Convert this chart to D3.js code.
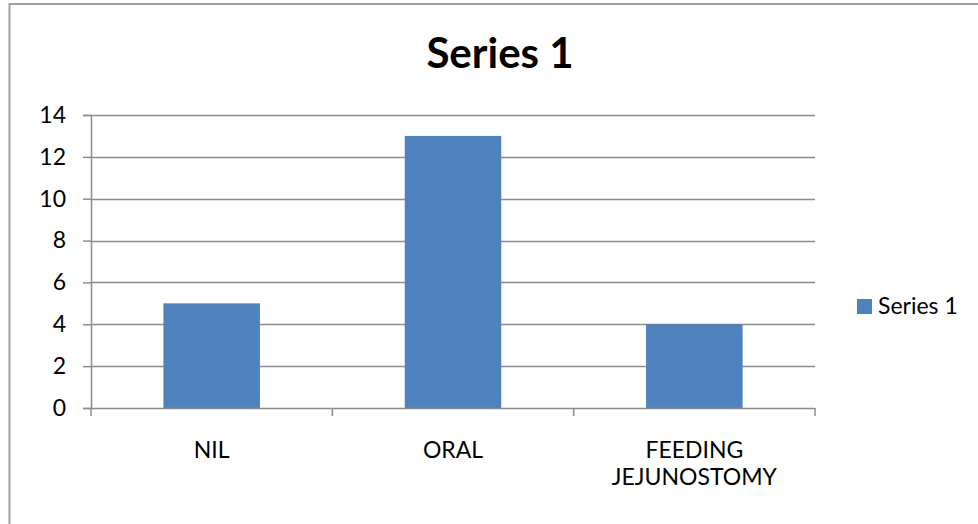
<!DOCTYPE html>
<html>
<head>
<meta charset="utf-8">
<script src="https://cdn.jsdelivr.net/npm/d3@7"></script>
<style>
  html, body { margin: 0; padding: 0; background: #fff; }
  svg { display: block; }
  text { font-family: Lato, "Open Sans", sans-serif; fill: #000; }
</style>
</head>
<body>
<svg id="chart" width="978" height="524"></svg>
<script>
const categories = ["NIL", "ORAL", "FEEDING JEJUNOSTOMY"];
const categoryLines = [["NIL"], ["ORAL"], ["FEEDING", "JEJUNOSTOMY"]];
const seriesName = "Series 1";
const values = [5, 13, 4];
const yTicks = [0, 2, 4, 6, 8, 10, 12, 14];
const title = "Series 1";

const svg = d3.select("#chart");
const W = 978, H = 524;
const plot = { left: 91, right: 815, top: 115, bottom: 408 };
const barColor = "#4F81BD";
const gridColor = "#8c8c8c";

// outer border
svg.append("rect")
  .attr("x", 9.5).attr("y", 4)
  .attr("width", 1000).attr("height", 600)
  .attr("fill", "none").attr("stroke", "#a0a0a0").attr("stroke-width", 2);

const x = d3.scaleBand().domain(categories).range([plot.left, plot.right]).paddingInner(0).paddingOuter(0);
const y = d3.scaleLinear().domain([0, 14]).range([plot.bottom, plot.top]);

// gridlines
svg.append("g").selectAll("line").data(yTicks.filter(d => d !== 0)).join("line")
  .attr("x1", plot.left).attr("x2", plot.right)
  .attr("y1", d => Math.round(y(d)) + 0.5).attr("y2", d => Math.round(y(d)) + 0.5)
  .attr("stroke", gridColor).attr("stroke-width", 1.5);

// bars
const barW = x.bandwidth() / 2.5;
svg.append("g").selectAll("rect").data(values).join("rect")
  .attr("x", (d, i) => x(categories[i]) + (x.bandwidth() - barW) / 2)
  .attr("y", d => y(d))
  .attr("width", barW)
  .attr("height", d => y(0) - y(d))
  .attr("fill", barColor);

// y axis
const yAxis = d3.axisLeft(y).tickValues(yTicks).tickSize(8).tickPadding(17).tickFormat(d3.format("d"));
const gy = svg.append("g").attr("transform", `translate(${plot.left},0)`).call(yAxis);
gy.select(".domain").attr("stroke", gridColor).attr("stroke-width", 1.5);
gy.selectAll(".tick line").attr("stroke", gridColor).attr("stroke-width", 1.5);
gy.selectAll(".tick text").style("font-size", "23px").style("font-family", "Lato, sans-serif").attr("fill", "#000");

// x axis
const xAxis = d3.axisBottom(x).tickSize(0).tickFormat("");
const gx = svg.append("g").attr("transform", `translate(0,${plot.bottom})`).call(xAxis);
gx.select(".domain").attr("stroke", gridColor).attr("stroke-width", 1.5)
  .attr("d", `M${plot.left},0.5H${plot.right}`);
// category boundary ticks
const boundaries = [plot.left].concat(categories.map(c => x(c) + x.bandwidth()));
svg.append("g").selectAll("line").data(boundaries).join("line")
  .attr("x1", d => d).attr("x2", d => d)
  .attr("y1", plot.bottom).attr("y2", plot.bottom + 8)
  .attr("stroke", gridColor).attr("stroke-width", 1.5);

// category labels
const lab = svg.append("g").selectAll("text").data(categoryLines).join("text")
  .attr("text-anchor", "middle")
  .attr("x", (d, i) => x(categories[i]) + x.bandwidth() / 2)
  .attr("y", 458)
  .style("font-size", "23px");
lab.selectAll("tspan").data(d => d).join("tspan")
  .attr("x", function() { return d3.select(this.parentNode).attr("x"); })
  .attr("dy", (d, i) => i === 0 ? 0 : 27)
  .text(d => d);

// title
svg.append("text").attr("x", 500).attr("y", 68).attr("text-anchor", "middle")
  .style("font-size", "42px").style("font-weight", "bold").text(title);

// legend
const lg = svg.append("g");
lg.append("rect").attr("x", 857).attr("y", 299).attr("width", 15).attr("height", 15).attr("fill", barColor);
lg.append("text").attr("x", 878).attr("y", 314).style("font-size", "23px").text(seriesName);
</script>
</body>
</html>
